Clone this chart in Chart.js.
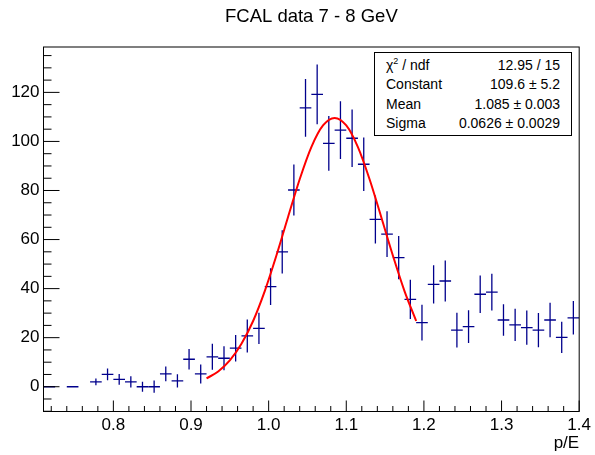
<!DOCTYPE html>
<html>
<head>
<meta charset="utf-8">
<script src="https://cdn.jsdelivr.net/npm/chart.js"></script>
<title>FCAL data 7 - 8 GeV</title>
<style type="text/css">
	body{ margin:0; background:#fff; }
	#wrap{ position:relative; width:595px; height:455px; }
	#stats{
		position:absolute; left:374px; top:52px; width:196px; height:82px;
		border:1px solid #000; background:#fff;
		font-family:'Liberation Sans', Arial, sans-serif; font-size:14px; color:#000;
	}
	#stats div{ position:absolute; left:11px; right:11px; height:19px; line-height:19px; }
	#stats span{ float:right; }
	#stats sup{ font-size:9px; line-height:0; vertical-align:6px; }
</style>
</head>
<body>
<div id="wrap">
	<canvas id="myChart" width="595" height="455"></canvas>
	<div id="stats">
		<div style="top:3px">&chi;<sup>2</sup> / ndf<span>12.95 / 15</span></div>
		<div style="top:22px">Constant<span>109.6 &plusmn; 5.2</span></div>
		<div style="top:41.5px">Mean<span>1.085 &plusmn; 0.003</span></div>
		<div style="top:60.5px">Sigma<span>0.0626 &plusmn; 0.0029</span></div>
	</div>
</div>
<script>
// histogram bins (p/E), contents and errors
const binX = [0.7175, 0.7475, 0.7775, 0.7925, 0.8075, 0.8225, 0.8375, 0.8525, 0.8675, 0.8825,
	0.8975, 0.9125, 0.9275, 0.9425, 0.9575, 0.9725, 0.9875, 1.0025, 1.0175, 1.0325,
	1.0475, 1.0625, 1.0775, 1.0925, 1.1075, 1.1225, 1.1375, 1.1525, 1.1675, 1.1825,
	1.1975, 1.2125, 1.2275, 1.2425, 1.2575, 1.2725, 1.2875, 1.3025, 1.3175, 1.3325,
	1.3475, 1.3625, 1.3775, 1.3925];
const binY = [0, 0, 2, 5, 3, 2, 0, 0, 5.2, 2.4,
	11.2, 5.2, 12.2, 11.6, 15.7, 20.7, 23.8, 40.8, 55, 80.2,
	113.7, 119.2, 99.2, 104.6, 101.3, 90.7, 68.2, 62.2, 52.6, 35.6,
	26.1, 41.7, 43.1, 23.1, 24.5, 37.7, 38.6, 27.2, 25.2, 24.1,
	23.1, 27.2, 20.1, 28.1];
const binErr = [0, 0, 1.4, 2.4, 2.2, 2.3, 2, 2.5, 3, 2.7,
	4.2, 3.9, 5.3, 4.9, 5.4, 6.7, 6.4, 7.5, 8.8, 10.4,
	11.8, 12.2, 11.2, 11.8, 11.7, 10.9, 9.8, 9.3, 8.8, 8,
	7.3, 7.8, 8.4, 7.1, 6.7, 7.6, 7.5, 6.4, 6.6, 7,
	7, 7, 6.4, 6.8];
const binHalf = 0.0075;

// gaussian fit curve as drawn
const fitX = [0.92, 0.935, 0.95, 0.965, 0.98, 0.995, 1.01, 1.025, 1.04, 1.055,
	1.07, 1.085, 1.10, 1.115, 1.13, 1.145, 1.16, 1.175, 1.19];
const fitY = [3.4, 6.2, 10.7, 17.5, 26.8, 39, 53.5, 69.2, 84.6, 97.7,
	106.5, 109.6, 106.5, 97.7, 84.6, 69.2, 53.5, 39, 26.8];

const xTicks = [0.8, 0.9, 1.0, 1.1, 1.2, 1.3, 1.4];
const yTicks = [0, 20, 40, 60, 80, 100, 120];

Chart.defaults.font.family = "'Liberation Sans', Arial, sans-serif";
Chart.defaults.color = '#000';

const errorBars = {
	id: 'errorBars',
	beforeDatasetsDraw(chart){
		const ctx = chart.ctx, x = chart.scales.x, y = chart.scales.y, a = chart.chartArea;
		ctx.save();
		ctx.beginPath();
		ctx.rect(a.left, a.top, a.right - a.left, a.bottom - a.top);
		ctx.clip();
		ctx.strokeStyle = 'rgb(0,0,140)';
		ctx.lineWidth = 1.3;
		for (let i = 0; i < binX.length; i++) {
			const px = x.getPixelForValue(binX[i]);
			const py = y.getPixelForValue(binY[i]);
			ctx.beginPath();
			ctx.moveTo(x.getPixelForValue(binX[i] - binHalf), py);
			ctx.lineTo(x.getPixelForValue(binX[i] + binHalf), py);
			if (binErr[i] > 0) {
				ctx.moveTo(px, y.getPixelForValue(binY[i] - binErr[i]));
				ctx.lineTo(px, y.getPixelForValue(binY[i] + binErr[i]));
			}
			ctx.stroke();
		}
		ctx.restore();
	}
};

// root style frame with inward ticks
const frame = {
	id: 'frame',
	afterDraw(chart){
		const ctx = chart.ctx, x = chart.scales.x, y = chart.scales.y, a = chart.chartArea;
		ctx.save();
		ctx.strokeStyle = '#000';
		ctx.lineWidth = 1;
		ctx.strokeRect(a.left, a.top, a.right - a.left, a.bottom - a.top);
		ctx.beginPath();
		for (let k = 36; k <= 70; k++) {
			const px = x.getPixelForValue(k / 50);
			const len = (k % 5 === 0) ? 11 : 5.5;
			ctx.moveTo(px, a.bottom);
			ctx.lineTo(px, a.bottom - len);
		}
		for (let k = -2; k <= 27; k++) {
			const py = y.getPixelForValue(k * 5);
			const len = (k % 4 === 0) ? 16 : 8;
			ctx.moveTo(a.left, py);
			ctx.lineTo(a.left + len, py);
		}
		ctx.stroke();
		ctx.restore();
	}
};

const myChart = new Chart(document.getElementById('myChart'), {
	type: 'scatter',
	data: {
		datasets: [{
			label: 'data',
			data: binX.map((v, i) => ({x: v, y: binY[i]})),
			pointRadius: 0,
			showLine: false
		}, {
			type: 'line',
			label: 'fit',
			data: fitX.map((v, i) => ({x: v, y: fitY[i]})),
			borderColor: 'rgb(255,0,0)',
			borderWidth: 2,
			pointRadius: 0,
			cubicInterpolationMode: 'monotone',
			fill: false
		}]
	},
	options: {
		responsive: false,
		animation: false,
		layout: { padding: { left: 0, right: 14, top: 0, bottom: 0 } },
		plugins: {
			legend: { display: false },
			tooltip: { enabled: false },
			title: {
				display: true,
				text: 'FCAL data 7 - 8 GeV',
				fullSize: false,
				color: '#000',
				font: { size: 18.5, weight: 'normal' },
				padding: { top: 6, bottom: 18.8 }
			}
		},
		scales: {
			x: {
				type: 'linear',
				min: 0.71,
				max: 1.4,
				afterFit(s){ s.height = 43.5; },
				afterBuildTicks(s){ s.ticks = xTicks.map(v => ({value: v})); },
				grid: { display: false, drawTicks: false },
				border: { display: false },
				ticks: { autoSkip: false, maxRotation: 0, padding: 4, font: { size: 17 } },
				title: {
					display: true, text: 'p/E', align: 'end',
					font: { size: 17 }, padding: { top: 0, bottom: 1 }
				}
			},
			y: {
				type: 'linear',
				min: -10.1,
				max: 138.5,
				afterFit(s){ s.width = 43.5; },
				afterBuildTicks(s){ s.ticks = yTicks.map(v => ({value: v})); },
				grid: { display: false, drawTicks: false },
				border: { display: false },
				ticks: { autoSkip: false, padding: 4, font: { size: 17 } }
			}
		}
	},
	plugins: [errorBars, frame]
});
</script>
</body>
</html>
